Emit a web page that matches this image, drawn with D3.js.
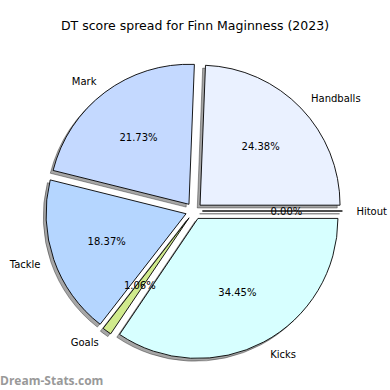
<!DOCTYPE html>
<html>
  <head>
    <title>DT score spread</title>
    <script src="https://d3js.org/d3.v7.min.js"></script>
    <style>
      body { margin: 0; background: #fff; }
      text { font-family: "DejaVu Sans", sans-serif; }
    </style>
  </head>
  <body>
  </body>
  <script>

var labels = ["Handballs", "Mark", "Tackle", "Goals", "Kicks", "Hitout"];
var percents = [24.38, 21.73, 18.37, 1.06, 34.45, 0.00];
var colors = ["#eaf1ff", "#c4d9ff", "#b5d6ff", "#d0ea8c", "#d7ffff", "#d7ffff"];
var title = "DT score spread for Finn Maginness (2023)";

var width = 390, height = 390;
var cx = 194, cy = 211, r = 140;
var explode = 0.06;

var svg = d3.select("body").append("svg")
    .attr("width", width)
    .attr("height", height);

svg.append("text")
    .attr("x", width / 2)
    .attr("y", 30)
    .attr("text-anchor", "middle")
    .style("font-size", "12.5px")
    .text(title);

// pie goes counter clockwise from east like matplotlib, d3 goes clockwise from north
var pie = d3.pie().sort(null).startAngle(0).endAngle(2 * Math.PI);
var slices = pie(percents);

var arc = d3.arc().innerRadius(0).outerRadius(r);

var g = svg.append("g").attr("transform", "translate(" + cx + "," + cy + ")");

slices.forEach(function(s, i) {
    // matplotlib angle (ccw from east)
    var t1 = s.startAngle, t2 = s.endAngle;
    var tm = (t1 + t2) / 2;
    var ox = explode * r * Math.cos(tm);
    var oy = -explode * r * Math.sin(tm);
    var d = arc({startAngle: Math.PI / 2 - t2, endAngle: Math.PI / 2 - t1});

    g.append("path")
        .attr("d", d)
        .attr("transform", "translate(" + (ox - 2.8) + "," + (oy + 2.8) + ")")
        .attr("fill", "#000")
        .attr("fill-opacity", 0.35)
        .attr("stroke", "#000")
        .attr("stroke-opacity", 0.35)
        .attr("stroke-width", 1);

    g.append("path")
        .attr("d", d)
        .attr("transform", "translate(" + ox + "," + oy + ")")
        .attr("fill", colors[i])
        .attr("stroke", "#000")
        .attr("stroke-width", 0.9);
});

slices.forEach(function(s, i) {
    var tm = (s.startAngle + s.endAngle) / 2;
    var ox = explode * r * Math.cos(tm);
    var oy = -explode * r * Math.sin(tm);
    var c = Math.cos(tm), sn = Math.sin(tm);

    g.append("text")
        .attr("x", ox + 1.1 * r * c)
        .attr("y", oy - 1.1 * r * sn)
        .attr("dy", "0.35em")
        .attr("text-anchor", c >= 0 ? "start" : "end")
        .style("font-size", "10px")
        .text(labels[i]);

    g.append("text")
        .attr("x", ox + 0.6 * r * c)
        .attr("y", oy - 0.6 * r * sn)
        .attr("dy", "0.35em")
        .attr("text-anchor", "middle")
        .style("font-size", "10px")
        .text(percents[i].toFixed(2) + "%");
});

svg.append("text")
    .attr("x", 0)
    .attr("y", 385)
    .attr("fill", "#999")
    .style("font-family", "'Open Sans', sans-serif")
    .style("font-weight", "bold")
    .style("font-size", "12px")
    .text("Dream-Stats.com");

  </script>
</html>
